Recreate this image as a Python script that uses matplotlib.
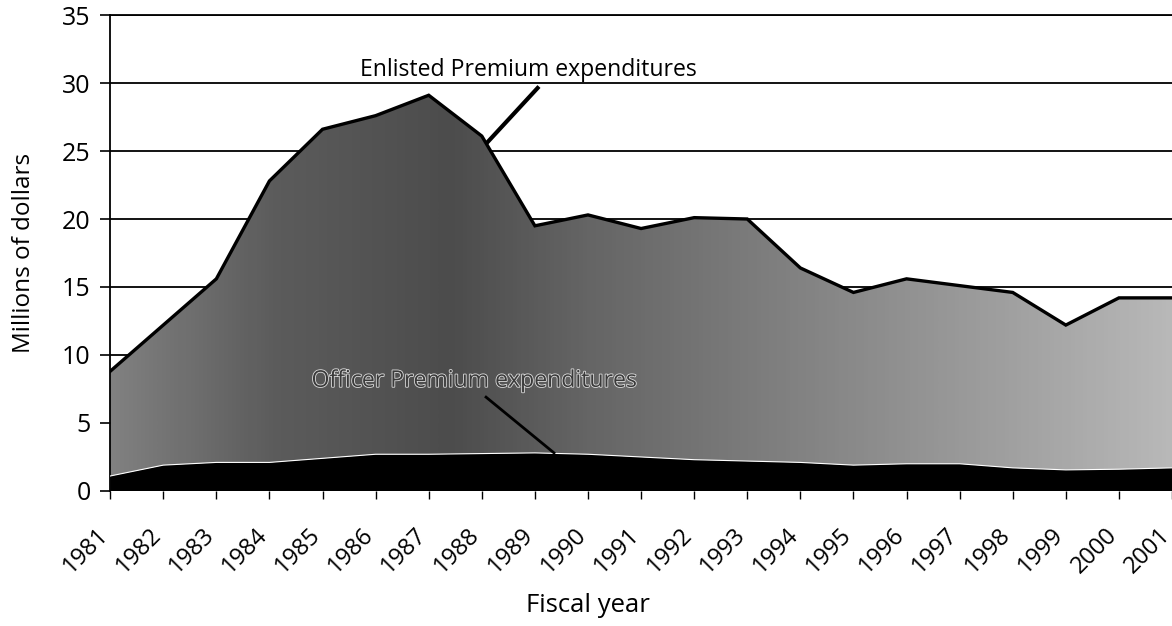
import numpy as np
import matplotlib
matplotlib.use("Agg")
import matplotlib.pyplot as plt
import matplotlib.patheffects as pe
from matplotlib.colors import LinearSegmentedColormap
from matplotlib.transforms import ScaledTranslation

plt.rcParams["font.family"] = ["Open Sans", "DejaVu Sans"]

# values (millions of dollars)
years = list(range(1981, 2002))
officer = [1.1, 1.9, 2.1, 2.1, 2.4, 2.7, 2.7, 2.75, 2.8, 2.7, 2.5,
           2.3, 2.2, 2.1, 1.9, 2.0, 2.0, 1.7, 1.55, 1.6, 1.7]
enlisted = [7.7, 10.3, 13.5, 20.7, 24.2, 24.9, 26.4, 23.35, 16.7, 17.6, 16.8,
            17.8, 17.8, 14.3, 12.7, 13.6, 13.1, 12.9, 10.65, 12.6, 12.5]
year_labels = [str(y) for y in years]
y_ticks = list(range(0, 36, 5))

fig = plt.figure(figsize=(11.72, 6.26), dpi=100)
ax = fig.add_axes([0.094, 0.2157, 1 - 0.094, 0.976 - 0.2157])

# stacked areas: officer (black) at the bottom, enlisted on top
polys = ax.stackplot(years, officer, enlisted, colors=["black", "none"],
                     linewidth=0, zorder=2)

# grey shading of the enlisted area, darker on the left, lighter on the right
shade = LinearSegmentedColormap.from_list(
    "shade",
    [(0.0, "#808080"), (0.15, "#5c5c5c"), (0.32, "#4c4c4c"), (0.45, "#656565"),
     (0.65, "#828282"), (0.85, "#a0a0a0"), (1.0, "#b8b8b8")])
grad = ax.imshow(np.linspace(0, 1, 256).reshape(1, -1), cmap=shade,
                 aspect="auto", extent=[years[0], years[-1], 0, 35],
                 interpolation="bicubic", zorder=1.5)
grad.set_clip_path(polys[1].get_paths()[0], ax.transData)

total = np.array(officer) + np.array(enlisted)
ax.plot(years, total, color="black", lw=2.4, zorder=3, solid_joinstyle="miter")
ax.plot(years, officer, color="white", lw=0.8, zorder=3)

ax.set_xlim(years[0], years[-1])
ax.set_ylim(0, 35)
ax.set_yticks(y_ticks)
ax.set_axisbelow(True)
ax.grid(axis="y", color="black", lw=1.3)

for side in ["right", "bottom"]:
    ax.spines[side].set_visible(False)
ax.spines["left"].set_linewidth(1.3)
ax.spines["top"].set_linewidth(1.3)

ax.tick_params(axis="y", direction="out", length=7, width=1.2, pad=7, labelsize=18)
ax.tick_params(axis="x", direction="out", length=6, width=1.0, labelbottom=False)
ax.set_xticks(years)

# rotated year labels, sitting down and to the left of each tick
shift = ScaledTranslation(-0.14, -0.32, fig.dpi_scale_trans)
for yr, lab in zip(years, year_labels):
    ax.text(yr, 0, lab, transform=ax.get_xaxis_transform() + shift,
            rotation=45, rotation_mode="anchor", ha="right", va="top",
            fontsize=17, clip_on=False)

fig.text(24 / 1172, 1 - 253 / 626, "Millions of dollars", rotation=90,
         ha="center", va="center", fontsize=17.5)
fig.text(588 / 1172, 1 - 606 / 626, "Fiscal year", ha="center", va="center",
         fontsize=18.5)

# callouts
ax.text(1988.88, 30.55, "Enlisted Premium expenditures", ha="center",
        va="baseline", fontsize=16.6, zorder=5)
ax.plot([1989.05, 1988.11], [29.63, 25.66], color="black", lw=3, zorder=4)

ax.text(1987.85, 8.1, "Officer Premium expenditures", ha="center",
        va="center", fontsize=16.6, color="#3a3a3a", zorder=5,
        path_effects=[pe.withStroke(linewidth=1.2, foreground="#dddddd")])
ax.plot([1988.08, 1989.36], [6.9, 2.8], color="black", lw=2, zorder=4)

fig.savefig("out.png", dpi=100)
